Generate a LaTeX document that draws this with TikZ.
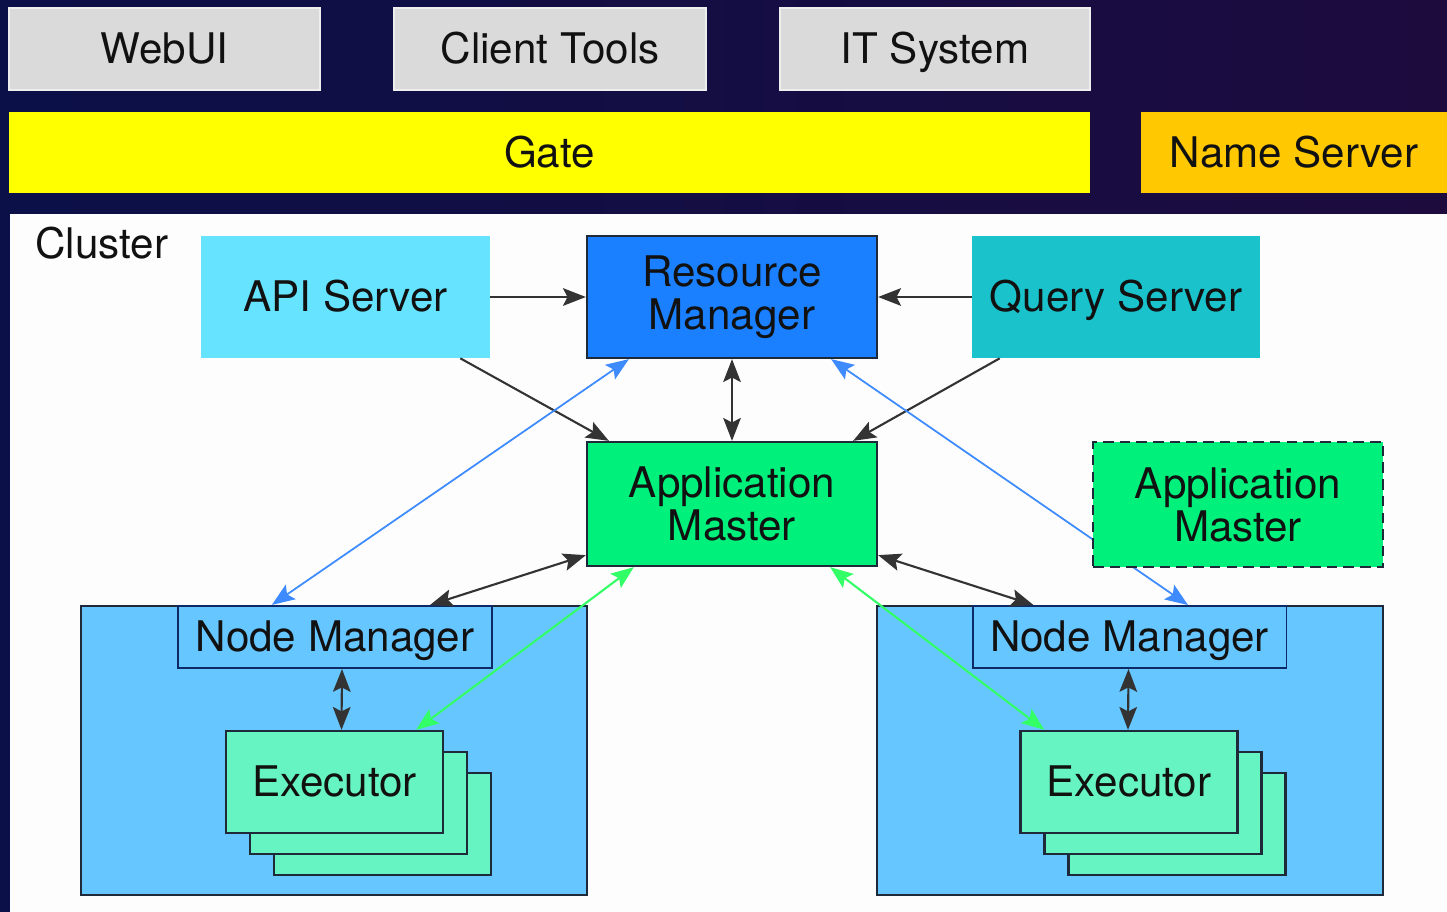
\documentclass[tikz,border=0pt]{standalone}
\usepackage{fontspec}
\setmainfont{TeX Gyre Heros}
\usetikzlibrary{positioning, arrows.meta, calc}
\usepackage{xcolor}
\definecolor{clnavy}{HTML}{0B1048}
\definecolor{clpurple}{HTML}{1D0B3E}
\definecolor{clgray}{HTML}{DADADA}
\definecolor{clgrayedge}{HTML}{EEEEEE}
\definecolor{clyellow}{HTML}{FFFF00}
\definecolor{clgold}{HTML}{FFC800}
\definecolor{clpanel}{HTML}{FDFDFD}
\definecolor{clcyan}{HTML}{66E4FF}
\definecolor{clblue}{HTML}{1A80FF}
\definecolor{clteal}{HTML}{1AC3CC}
\definecolor{clgreen}{HTML}{00F07C}
\definecolor{clsky}{HTML}{66C6FF}
\definecolor{clmint}{HTML}{66F5C2}
\definecolor{cledge}{HTML}{1E2A3A}
\definecolor{clnmedge}{HTML}{0E2A66}
\definecolor{clarrow}{HTML}{333333}
\definecolor{clbluearrow}{HTML}{3D8BFF}
\definecolor{clgreenarrow}{HTML}{33FF66}
\definecolor{cltext}{HTML}{111111}

\begin{document}
\begin{tikzpicture}[x=0.02cm, y=-0.02cm, font=\fontsize{24}{24.5}\selectfont, text=cltext,
    >={Stealth[length=13pt,width=10pt,inset=2.5pt]},
    oneline/.style={text height=17pt, text depth=0pt},
    topbox/.style={oneline, fill=clgray, draw=clgrayedge, line width=1pt, minimum width=6.22cm, minimum height=1.64cm, inner sep=0pt},
    barbox/.style={oneline, minimum height=1.62cm, inner sep=0pt},
    srvbox/.style={minimum width=5.8cm, minimum height=2.44cm, align=center, inner sep=0pt},
    corebox/.style={srvbox, draw=cledge, line width=1.3pt},
    hostbox/.style={fill=clsky, draw=cledge, line width=1.3pt, minimum width=10.12cm, minimum height=5.78cm, inner sep=0pt},
    nmbox/.style={oneline, fill=clsky, draw=clnmedge, line width=1.1pt, minimum width=6.28cm, minimum height=1.24cm, inner sep=0pt},
    execbox/.style={oneline, fill=clmint, draw=cledge, line width=1.3pt, minimum width=4.34cm, minimum height=2.04cm, inner sep=0pt},
    link/.style={color=clarrow, line width=1.2pt},
    bluelink/.style={color=clbluearrow, line width=1pt},
    greenlink/.style={color=clgreenarrow, line width=1.2pt}]
    \useasboundingbox (0,0) rectangle (1447,912);
    \shade[left color=clnavy, right color=clpurple] (0,0) rectangle (1447,912);

    % clients and gateway
    \node[topbox] (webui) at (164.5,49) {WebUI};
    \node[topbox, minimum width=6.24cm] (tools) at (550,49) {Client Tools};
    \node[topbox, minimum width=6.2cm] (itsys) at (935,49) {IT System};
    \node[barbox, fill=clyellow, minimum width=21.62cm] (gate) at (549.5,152.5) {Gate};
    \node[barbox, fill=clgold, minimum width=6.12cm] (names) at (1294,152.5) {Name Server};

    % cluster
    \fill[clpanel] (10,214) rectangle (1447,912);
    \node[anchor=west, inner sep=0pt] (cluster) at (35,243) {Cluster};
    \node[srvbox, oneline, fill=clcyan, minimum width=5.78cm] (api) at (345.5,297) {API Server};
    \node[corebox, fill=clblue] (rm) at (732,297) {Resource\\Manager};
    \node[srvbox, oneline, fill=clteal, minimum width=5.76cm] (qs) at (1116,297) {Query Server};
    \node[corebox, fill=clgreen, minimum height=2.48cm] (am) at (732,504) {Application\\Master};

    % hosts
    \node[hostbox] (host1) at (334,750.5) {};
    \node[nmbox] (nm1) at (335,637) {Node Manager};
    \node[execbox] (exec1c) at (382.5,824) {};
    \node[execbox] (exec1b) at (358.5,803) {};
    \node[execbox] (exec1) at (334.5,782) {Executor};
    \node[hostbox] (host2) at (1130,750.5) {};
    \node[nmbox] (nm2) at (1129.5,637) {Node Manager};
    \node[execbox] (exec2c) at (1177,824) {};
    \node[execbox] (exec2b) at (1153,803) {};
    \node[execbox] (exec2) at (1129,782) {Executor};

    \draw[->, link] (api.east) -- (rm.west);
    \draw[->, link] (qs.west) -- (rm.east);
    \draw[->, link] ([xshift=-0.6cm]api.south east) -- ([xshift=0.46cm]am.north west);
    \draw[->, link] ([xshift=0.56cm]qs.south west) -- ([xshift=-0.5cm]am.north east);
    \draw[<->, link] (rm.south) -- (am.north);
    \draw[<->, link] ([yshift=0.24cm]am.south west) -- ([xshift=1.9cm]nm1.north);
    \draw[<->, link] ([yshift=0.24cm]am.south east) -- ([xshift=-1.92cm]nm2.north);
    \draw[<->, link] ([xshift=0.14cm]nm1.south) -- ([xshift=0.14cm]exec1.north);
    \draw[<->, link] ([xshift=-0.02cm]nm2.south) -- ([xshift=-0.02cm]exec2.north);
    \draw[<->, bluelink] ([xshift=3.84cm]host1.north west) -- ([xshift=0.86cm]rm.south west);
    \draw[<->, bluelink] ([xshift=-0.94cm]rm.south east) -- ([xshift=1.17cm]nm2.north);
    \draw[<->, greenlink] ([xshift=0.96cm]am.south west) -- ([xshift=-0.56cm]exec1.north east);
    \draw[<->, greenlink] ([xshift=-0.96cm]am.south east) -- ([xshift=0.5cm]exec2.north west);

    % spare master
    \node[srvbox, fill=clgreen, draw=cledge, line width=1.3pt, dash pattern=on 6pt off 3.5pt, minimum height=2.5cm] (am2) at (1238,504.5) {Application\\Master};
\end{tikzpicture}
\end{document}
